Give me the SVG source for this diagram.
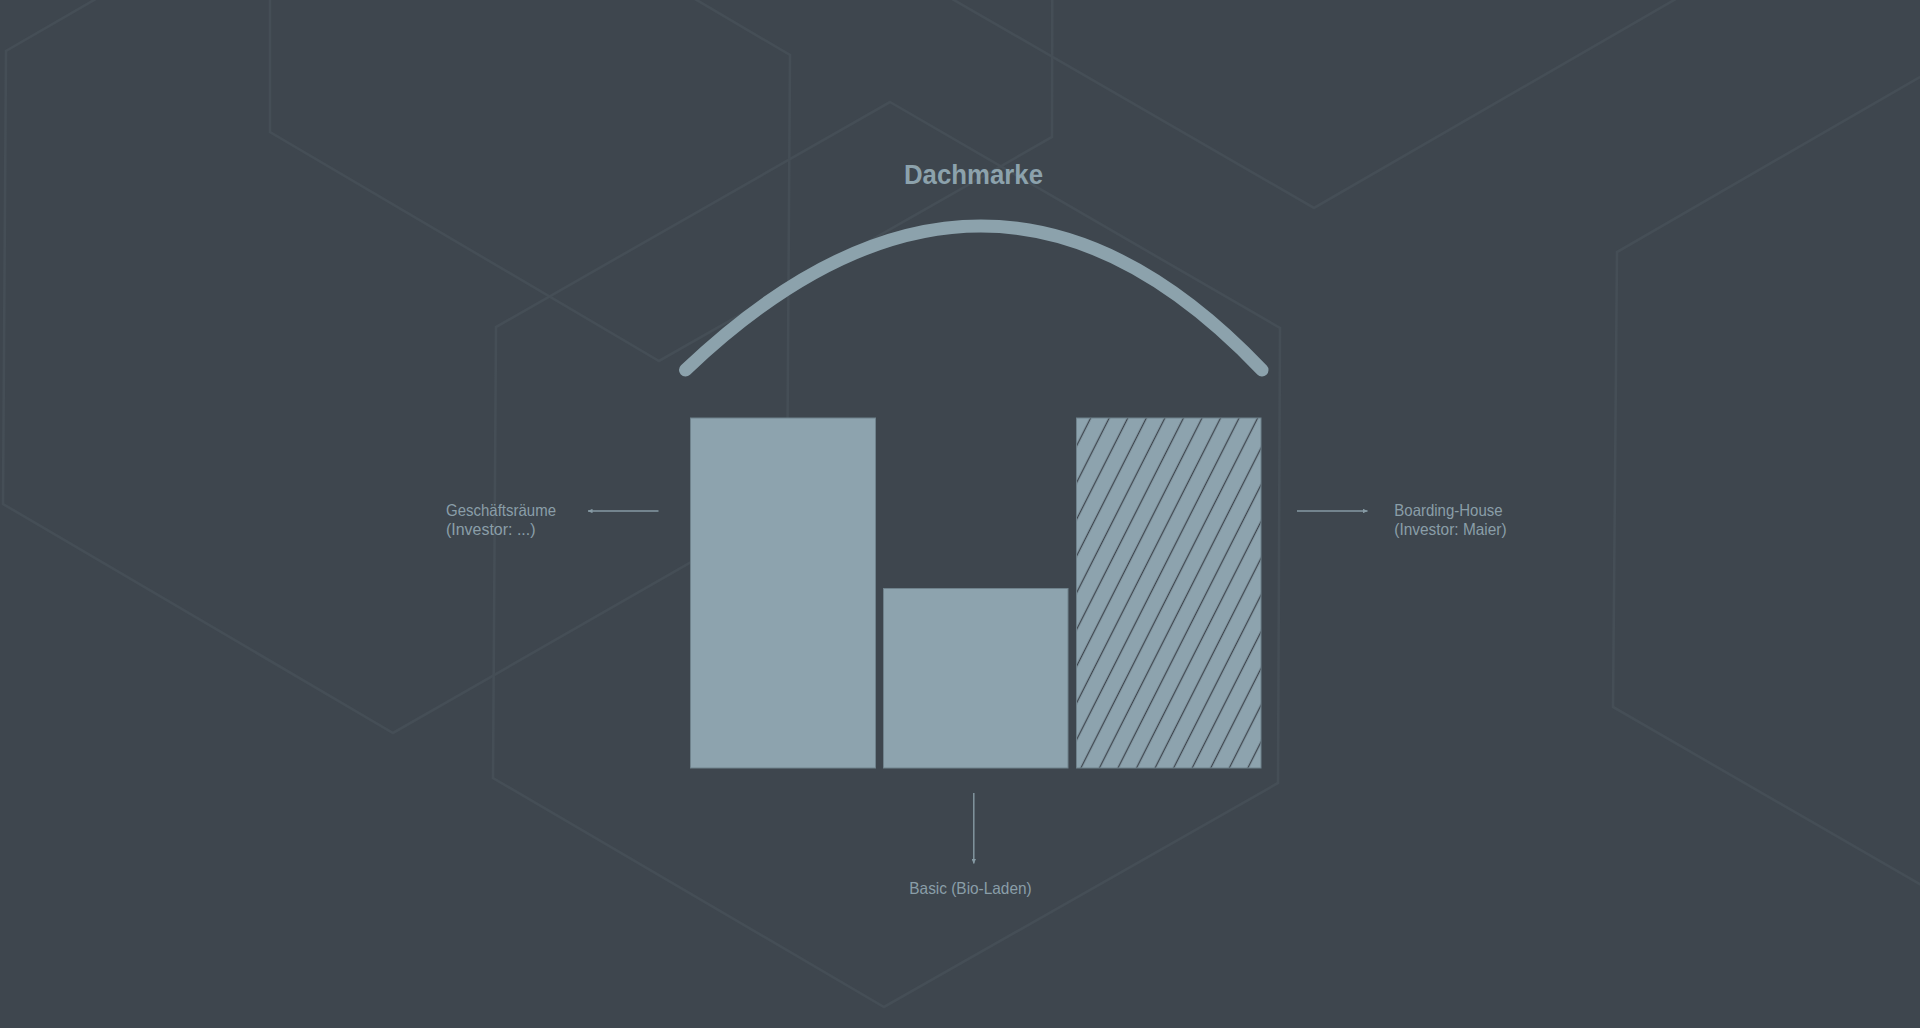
<svg xmlns="http://www.w3.org/2000/svg" width="1920" height="1028" viewBox="0 0 1920 1028">
  <style>
    .hex { fill: none; stroke: #454e56; stroke-width: 2.6; stroke-linejoin: miter; }
    .bar { stroke: #6f828c; stroke-width: 1; }
    .label { font-family: "Liberation Sans", Arial, sans-serif; font-size: 16.5px; fill: #8a9ea8; }
    .title { font-family: "Liberation Sans", Arial, sans-serif; font-size: 28px; font-weight: bold; fill: #8ca2ac; }
    .conn { stroke: #869aa4; stroke-width: 1.4; fill: none; }
  </style>
  <defs>
    <pattern id="hatch" patternUnits="userSpaceOnUse" width="16.56" height="20" patternTransform="translate(1081.4,418) rotate(26.8)">
      <rect x="0" y="0" width="16.56" height="20" fill="#8da3ae"/>
      <rect x="7.63" y="0" width="1.3" height="20" fill="#3e464e"/>
    </pattern>
    <marker id="arrow" viewBox="0 0 6 6" refX="6" refY="3" markerWidth="5" markerHeight="4.5" markerUnits="userSpaceOnUse" orient="auto">
      <path d="M0,0 L6,3 L0,6 z" fill="#869aa4"/>
    </marker>
  </defs>

  <rect x="0" y="0" width="1920" height="1028" fill="#3e464e"/>

  <g id="background-hexagons">
    <polygon class="hex" points="398,-176 790,55 787,507 393,733 3,504 6,51"/>
    <polygon class="hex" points="661,-543 1053,-317 1052,137 659,361 270,132 270,-316"/>
    <polygon class="hex" points="1314,-473 1707,-246 1707,-19 1314,208 921,-19 921,-246"/>
    <polygon class="hex" points="890,102 1280,328 1278,783 884,1007 493,778 496,327"/>
    <polygon class="hex" points="2010,25 2400,252 2400,707 2006,934 1613,707 1617,252"/>
  </g>

  <g id="node-dachmarke">
    <text class="title" x="904" y="183.5" textLength="139" lengthAdjust="spacingAndGlyphs">Dachmarke</text>
    <path d="M685.5,370 Q988,82 1262,370" fill="none" stroke="#8ca2ac" stroke-width="13" stroke-linecap="round"/>
  </g>

  <g id="node-geschaeftsraeume">
    <rect class="bar" x="690.5" y="418" width="185" height="350" fill="#8da3ae"/>
  </g>
  <g id="node-basic">
    <rect class="bar" x="883.5" y="588.5" width="184.5" height="179.5" fill="#8da3ae"/>
  </g>
  <g id="node-boarding-house">
    <rect class="bar" x="1076.5" y="418" width="184.5" height="350" fill="url(#hatch)"/>
  </g>

  <g id="connectors">
    <line class="conn" x1="658.5" y1="511" x2="588" y2="511" marker-end="url(#arrow)"/>
    <line class="conn" x1="1297" y1="511" x2="1367.5" y2="511" marker-end="url(#arrow)"/>
    <line class="conn" x1="973.8" y1="793" x2="973.8" y2="863.5" marker-end="url(#arrow)"/>
  </g>

  <g id="label-geschaeftsraeume">
    <text class="label" x="446" y="516" textLength="110" lengthAdjust="spacingAndGlyphs">Geschäftsräume</text>
    <text class="label" x="446" y="535" textLength="89.5" lengthAdjust="spacingAndGlyphs">(Investor: ...)</text>
  </g>
  <g id="label-boarding-house">
    <text class="label" x="1394.3" y="516" textLength="108.3" lengthAdjust="spacingAndGlyphs">Boarding-House</text>
    <text class="label" x="1394.3" y="535" textLength="112.3" lengthAdjust="spacingAndGlyphs">(Investor: Maier)</text>
  </g>
  <g id="label-basic">
    <text class="label" x="909.3" y="893.5" textLength="122.4" lengthAdjust="spacingAndGlyphs">Basic (Bio-Laden)</text>
  </g>
</svg>
